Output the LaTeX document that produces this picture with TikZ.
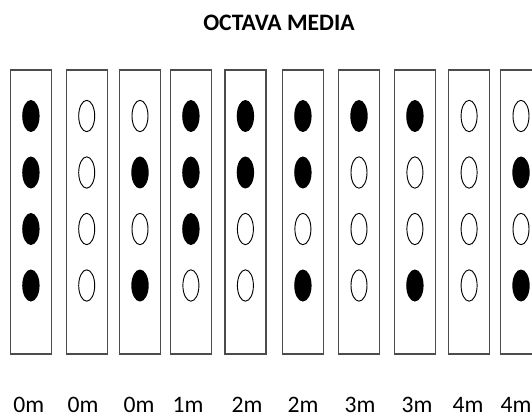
\documentclass[tikz,border=0pt]{standalone}
\usepackage{fontspec}
\setmainfont{Carlito}
\usetikzlibrary{shapes.geometric, positioning}

\begin{document}
\begin{tikzpicture}[
      x=0.75pt, y=-0.75pt,
      casilla/.style={draw=black!70, line width=0.9pt, minimum width=30.75pt, minimum height=213pt, inner sep=0pt},
      punto0/.style={ellipse, draw=black, line width=0.7pt, minimum width=12pt, minimum height=23.5pt, inner sep=0pt},
      punto1/.style={ellipse, fill=black, minimum width=13pt, minimum height=24pt, inner sep=0pt},
      lbl/.style={font=\fontsize{17.7}{20}\selectfont, anchor=base, inner sep=0pt}
    ]
    \useasboundingbox (0,0) rectangle (532,417);

    % Titulo
    \node[lbl, font=\fontsize{17.7}{20}\selectfont\bfseries] (titulo) at (279,30.5) {OCTAVA MEDIA};

    % Casillas con sus puntos
    \foreach \x/\a/\b/\c/\d [count=\i] in {30.9/1/1/1/1, 86.7/0/0/0/0, 140/0/1/0/1, 190.9/1/1/1/0,
        245.4/1/1/0/0, 302.9/1/1/0/1, 359/1/0/0/0, 414.9/1/0/0/1, 469.1/0/0/0/0, 521/0/1/0/1} {
      \node[casilla] (c\i) at (\x,212) {};
      \foreach \v/\y [count=\j] in {\a/116, \b/172.5, \c/229, \d/285.5}
        \node[punto\v] (p\i-\j) at (\x,\y) {};
    }

    % Etiquetas
    \foreach \x/\t [count=\i] in {28.8/0m, 83/0m, 139/0m, 188/1m, 247/2m, 303/2m, 360/3m, 417/3m, 468/4m, 516/4m}
      \node[lbl] (e\i) at (\x,412.5) {\t};
  \end{tikzpicture}
\end{document}
